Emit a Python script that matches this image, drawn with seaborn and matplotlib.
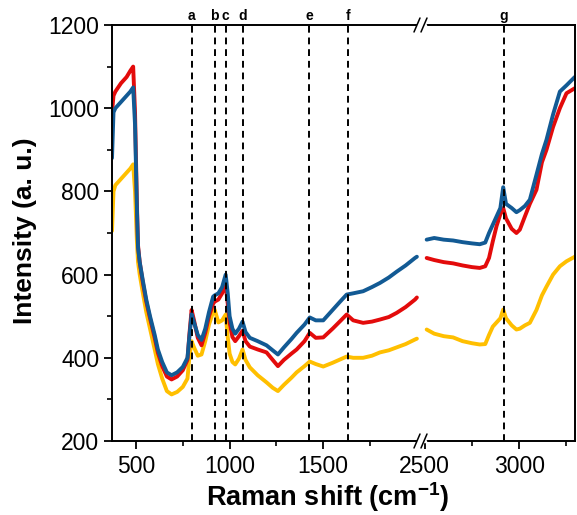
import matplotlib
matplotlib.use("Agg")
import matplotlib.pyplot as plt
import seaborn as sns
from matplotlib.ticker import FixedLocator, MultipleLocator
from matplotlib.lines import Line2D

# ---------------- data ----------------
x_left = [372, 380, 390, 420, 450, 470, 485, 495, 505, 511, 520, 537, 555, 575, 600, 617, 640, 665,
          690, 720, 750, 775, 785, 797, 810, 830, 850, 870, 890, 912, 920, 940, 960, 979, 990, 1000,
          1015, 1030, 1050, 1069, 1085, 1108, 1150, 1197, 1230, 1258, 1290, 1330, 1358, 1400, 1428,
          1460, 1500, 1550, 1590, 1625, 1660, 1713, 1760, 1803, 1850, 1892, 1940, 1990, 2000]
blue_left = [880, 990, 1000, 1015, 1030, 1040, 1050, 960, 760, 665, 630, 585, 540, 500, 455, 420, 390, 365,
             358, 365, 378, 400, 450, 505, 485, 455, 443, 470, 510, 547, 550, 555, 570, 600, 555, 500,
             470, 458, 470, 487, 462, 448, 440, 430, 418, 408, 425, 445, 460, 480, 497,
             490, 490, 515, 535, 552, 555, 560, 570, 580, 593, 607, 622, 640, 643]
red_left = [990, 1030, 1040, 1060, 1075, 1090, 1100, 990, 770, 670, 630, 580, 535, 495, 448, 412, 380, 355,
            348, 355, 370, 395, 455, 515, 490, 448, 430, 460, 500, 530, 535, 540, 555, 575, 530, 485,
            450, 440, 452, 465, 440, 427, 420, 413, 395, 380, 395, 410, 420, 440, 460,
            448, 449, 470, 488, 504, 490, 484, 487, 492, 498, 508, 522, 540, 545]
yellow_left = [705, 800, 815, 830, 845, 855, 865, 800, 680, 630, 600, 555, 510, 470, 420, 385, 350, 320,
               312, 318, 330, 350, 400, 440, 425, 405, 408, 440, 480, 510, 516, 485, 490, 504, 450, 410,
               390, 384, 398, 420, 395, 377, 358, 341, 328, 320, 335, 352, 365, 380, 391,
               385, 379, 388, 396, 403, 400, 400, 405, 413, 418, 425, 433, 444, 446]

x_right = [2510, 2550, 2600, 2650, 2700, 2750, 2791, 2820, 2840, 2860, 2880, 2900, 2915, 2930, 2960,
           2985, 3003, 3030, 3056, 3091, 3120, 3144, 3179, 3215, 3250, 3294]
blue_right = [684, 688, 684, 682, 678, 675, 673, 677, 700, 720, 740, 760, 810, 770, 760,
              750, 755, 765, 780, 840, 890, 924, 985, 1040, 1055, 1075]
red_right = [640, 635, 630, 627, 622, 618, 616, 620, 640, 680, 717, 745, 760, 735, 710,
             700, 708, 740, 770, 804, 870, 900, 955, 1000, 1036, 1048]
yellow_right = [468, 458, 452, 449, 440, 435, 432, 433, 455, 475, 485, 495, 516, 495, 478,
                468, 470, 478, 484, 515, 550, 571, 600, 620, 632, 643]

peak_labels = ["a", "b", "c", "d", "e", "f", "g"]
peak_pos = [797, 920, 979, 1069, 1425, 1632, 2920]

x_ticks_left = [500, 1000, 1500]
x_ticks_right = [2500, 3000]
y_ticks = [200, 400, 600, 800, 1000, 1200]

# ---------------- style ----------------
sns.set_style("ticks")
plt.rcParams['font.family'] = ['Liberation Sans', 'DejaVu Sans']
plt.rcParams['mathtext.fontset'] = 'custom'
plt.rcParams['mathtext.rm'] = 'Liberation Sans:bold'
plt.rcParams['mathtext.default'] = 'rm'
for k in ('text.color', 'axes.labelcolor', 'xtick.color', 'ytick.color', 'axes.edgecolor'):
    plt.rcParams[k] = 'black'

BLUE = "#125A94"
RED = "#E30B0B"
YELLOW = "#FFBF00"

W, H = 577, 515
fig = plt.figure(figsize=(W / 100, H / 100), dpi=100)
fig.patch.set_facecolor("white")

ax_l_px = (112, 421)
ax_r_px = (421, 575)
y_px = (25, 441)

def px_rect(x0, x1):
    return [x0 / W, (H - y_px[1]) / H, (x1 - x0) / W, (y_px[1] - y_px[0]) / H]

axL = fig.add_axes(px_rect(*ax_l_px))
axR = fig.add_axes(px_rect(*ax_r_px))

lw = 2.8
for ax, xs, ys in [(axL, x_left, (yellow_left, red_left, blue_left)),
                   (axR, x_right, (yellow_right, red_right, blue_right))]:
    for y, c in zip(ys, (YELLOW, RED, BLUE)):
        sns.lineplot(x=xs, y=y, ax=ax, color=c, lw=lw, sort=False, estimator=None)

axL.set_xlim(372, 2022)
axR.set_xlim(2480, 3295)
for ax in (axL, axR):
    ax.set_ylim(200, 1200)
    ax.set_xlabel("")
    ax.set_ylabel("")
    for s in ax.spines.values():
        s.set_linewidth(1.4)
        s.set_color("black")
    ax.tick_params(axis="both", which="major", direction="out", length=6, width=1.3,
                   labelsize=16.5, colors="black", labelcolor="black", top=False, right=False)
    ax.tick_params(axis="both", which="minor", direction="out", length=3.5, width=1.2,
                   top=False, right=False, colors="black")
    ax.set_facecolor("white")

axL.spines["right"].set_visible(False)
axR.spines["left"].set_visible(False)
axR.tick_params(axis="y", which="both", left=False, labelleft=False)

axL.yaxis.set_major_locator(FixedLocator(y_ticks))
axL.yaxis.set_minor_locator(MultipleLocator(100))
axL.xaxis.set_major_locator(FixedLocator(x_ticks_left))
axL.xaxis.set_minor_locator(FixedLocator([750, 1250, 1750]))
axR.xaxis.set_major_locator(FixedLocator(x_ticks_right))
axR.xaxis.set_minor_locator(FixedLocator([2750, 3250]))
axL.tick_params(axis="x", pad=4)
axR.tick_params(axis="x", pad=4)
axL.tick_params(axis="y", pad=3)

# dashed peak lines and letters
for lab, p in zip(peak_labels, peak_pos):
    ax = axL if p < 2200 else axR
    ax.axvline(p, color="black", lw=1.4, ls=(0, (3.5, 2.5)), zorder=5)
    ax.text(p, 1204, lab, ha="center", va="bottom", fontsize=10, fontweight="bold")

# break marks
for yb in (y_px[0], y_px[1]):
    fig.add_artist(Line2D([(418) / W, (425) / W], [(H - yb) / H, (H - yb) / H],
                          color="white", lw=2.5, zorder=1))
    for dx in (-4, 3):
        xc = 421 + dx
        fig.add_artist(Line2D([(xc - 3) / W, (xc + 3) / W],
                              [(H - yb - 7) / H, (H - yb + 7) / H],
                              color="black", lw=1.1, zorder=2))

fig.text(328 / W, 1 - 497 / H, "Raman shift (cm$^{-1}$)", ha="center", va="center",
         fontsize=19.5, fontweight="bold")
fig.text(25 / W, 1 - 231 / H, "Intensity (a. u.)", ha="center", va="center",
         fontsize=19, fontweight="bold", rotation=90)

fig.savefig("out.png", dpi=100, facecolor="white")
